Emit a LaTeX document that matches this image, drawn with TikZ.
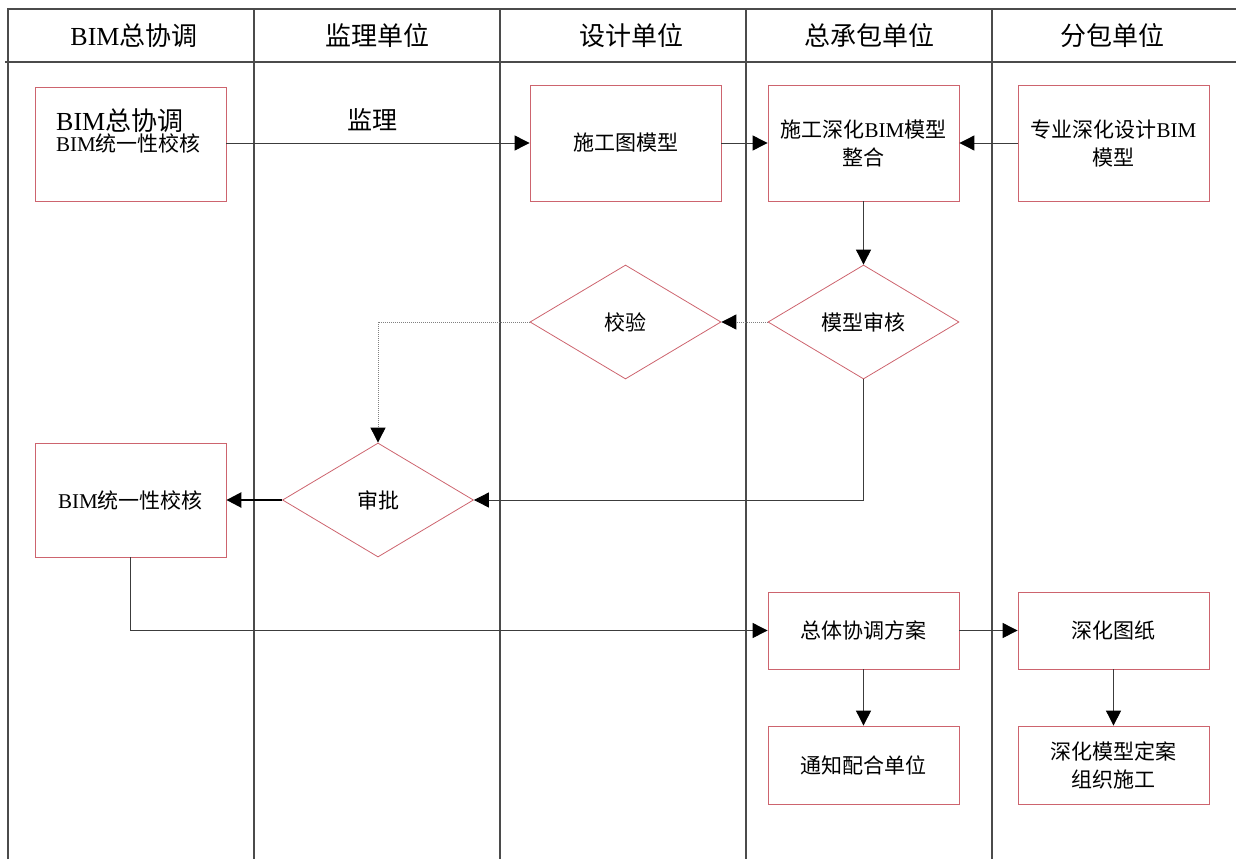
\documentclass[tikz,border=0pt]{standalone}
\usepackage{fontspec}
\setmainfont{Liberation Serif}
\newfontfamily\cjk{Noto Sans CJK SC}
\newcommand\zh[1]{{\cjk #1}}
\usetikzlibrary{shapes.geometric,arrows.meta}
\definecolor{boxred}{RGB}{205,100,110}
\definecolor{lanegray}{RGB}{75,75,75}
\definecolor{conngray}{RGB}{60,60,60}
\begin{document}
\begin{tikzpicture}[x=1pt,y=-1pt,
  box/.style={draw=boxred, line width=0.8pt, minimum width=191pt, inner sep=0pt, align=center, font=\fontsize{21}{28}\selectfont},
  dia/.style={draw=boxred, shape=diamond, line width=0.8pt, minimum width=191pt, minimum height=114pt, inner sep=0pt, font=\fontsize{21}{28}\selectfont},
  lane/.style={draw=lanegray, line width=1.2pt},
  hdr/.style={font=\fontsize{26}{30}\selectfont},
  conn/.style={draw=conngray, line width=0.9pt, -{Triangle[length=15pt,width=15pt,black]}},
  dotconn/.style={conn, draw=gray, dash pattern=on 1pt off 1pt}]
\useasboundingbox (0,0) rectangle (1236,859);
% lanes
\draw[lane] (8,859) -- (8,9) -- (1236,9);
\draw[lane] (5,62) -- (1236,62);
\foreach \x in {254,500,746,992} {\draw[lane] (\x,9) -- (\x,859);}
% headers
\node[hdr] (h1) at (134,36) {BIM\zh{总协调}};
\node[hdr] (h2) at (377,36) {\zh{监理单位}};
\node[hdr] (h3) at (631,36) {\zh{设计单位}};
\node[hdr] (h4) at (869,36) {\zh{总承包单位}};
\node[hdr] (h5) at (1112,36) {\zh{分包单位}};
% nodes
\node[box, minimum height=114pt] (b1) at (130.5,144) {};
\node[anchor=base west, inner sep=0pt, font=\fontsize{26}{26}\selectfont] (b1a) at (56,130) {BIM\zh{总协调}};
\node[anchor=base west, inner sep=0pt, font=\fontsize{21}{21}\selectfont] (b1b) at (56,151) {BIM\zh{统一性校核}};
\node[font=\fontsize{25}{25}\selectfont] (jl) at (372,120) {\zh{监理}};
\node[box, minimum height=116pt] (sgt) at (625.5,143) {\zh{施工图模型}};
\node[box, minimum height=116pt] (zhh) at (863.5,143) {\zh{施工深化}BIM\zh{模型}\\\zh{整合}};
\node[box, minimum height=116pt] (zy) at (1113.5,143) {\zh{专业深化设计}BIM\\\zh{模型}};
\node[dia] (mx) at (863.5,322) {\zh{模型审核}};
\node[dia] (jy) at (625.5,322) {\zh{校验}};
\node[dia] (sp) at (378,500) {\zh{审批}};
\node[box, minimum height=114pt] (b2) at (130.5,500) {BIM\zh{统一性校核}};
\node[box, minimum height=77pt] (ztf) at (863.5,630.5) {\zh{总体协调方案}};
\node[box, minimum height=78pt] (tz) at (863.5,765) {\zh{通知配合单位}};
\node[box, minimum height=77pt] (shtz) at (1113.5,630.5) {\zh{深化图纸}};
\node[box, minimum height=78pt] (shmx) at (1113.5,765) {\zh{深化模型定案}\\\zh{组织施工}};
% connectors
\draw[conn] (sgt.west -| b1.east) -- (sgt.west);
\draw[conn] (sgt.east) -- (zhh.west);
\draw[conn] (zy.west) -- (zhh.east);
\draw[conn] (zhh.south) -- (mx.north);
\draw[dotconn] (mx.west) -- (jy.east);
\draw[dotconn] (jy.west) -| (sp.north);
\draw[conn] (mx.south) |- (sp.east);
\draw[conn, draw=black, line width=2.5pt] (sp.west) -- (b2.east);
\draw[conn] (b2.south) |- (ztf.west);
\draw[conn] (ztf.east) -- (shtz.west);
\draw[conn] (ztf.south) -- (tz.north);
\draw[conn] (shtz.south) -- (shmx.north);
\end{tikzpicture}
\end{document}
